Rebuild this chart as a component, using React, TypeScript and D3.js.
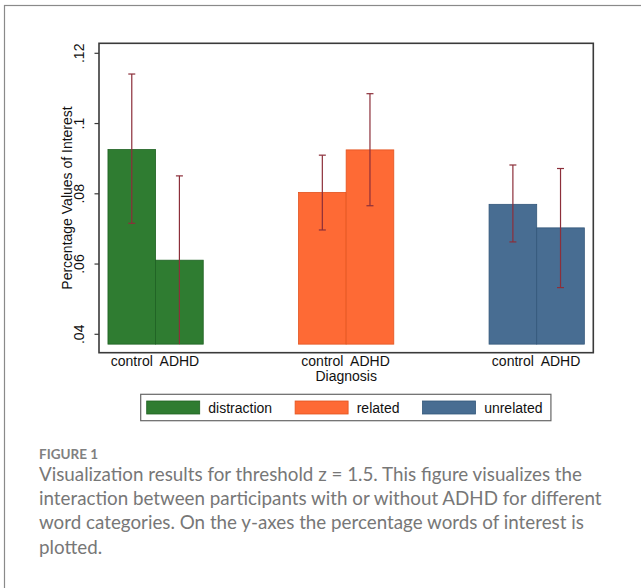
import * as d3 from "d3";
import { useRef, useEffect } from "react";

// word categories (groups) and diagnosis (bars within a group)
const categories = ["distraction", "related", "unrelated"];
const diagnosis = ["control", "ADHD"];

// mean percentage + confidence limits, order: control, ADHD
const distraction = [0.0926, 0.0611];
const distractionLo = [0.0716, 0.036];
const distractionHi = [0.1141, 0.0851];

const related = [0.0804, 0.0925];
const relatedLo = [0.0697, 0.0766];
const relatedHi = [0.091, 0.1085];

const unrelated = [0.077, 0.0703];
const unrelatedLo = [0.0663, 0.0533];
const unrelatedHi = [0.0882, 0.0872];

const yTicks = [0.04, 0.06, 0.08, 0.1, 0.12];
const yTickLabels = [".04", ".06", ".08", ".1", ".12"];
const barBase = 0.0372;

const captionLines = [
  "Visualization results for threshold z = 1.5. This figure visualizes the",
  "interaction between participants with or without ADHD for different",
  "word categories. On the y-axes the percentage words of interest is",
  "plotted.",
];

const W = 641;
const H = 588;
const stata = "'Liberation Sans', Arial, sans-serif";

export default function App() {
  const ref = useRef<SVGSVGElement>(null);

  useEffect(() => {
    if (!ref.current) return;
    const svg = d3.select(ref.current);
    svg.selectAll("*").remove();

    const colors = ["#2f7c31", "#fe6a35", "#486d92"];
    const edges = ["#1e6122", "#e2541f", "#33577a"];
    const series = [
      { mean: distraction, lo: distractionLo, hi: distractionHi },
      { mean: related, lo: relatedLo, hi: relatedHi },
      { mean: unrelated, lo: unrelatedLo, hi: unrelatedHi },
    ];

    // outer figure frame
    svg.append("rect")
      .attr("x", 4.5).attr("y", 5.5)
      .attr("width", W + 20).attr("height", H + 20)
      .attr("fill", "#fff").attr("stroke", "#8a8a8a").attr("stroke-width", 1.2);

    const left = 99, right = 593.3, top = 43.3, bottom = 352.7;

    const y = d3.scaleLinear().domain([0.04, 0.12]).range([334.3, 53.3]);
    const x0 = d3.scaleBand()
      .domain(categories)
      .range([left, right])
      .paddingInner(0.5)
      .paddingOuter(0.047);
    const x1 = d3.scaleBand().domain(diagnosis).range([0, x0.bandwidth()]);

    // bars
    categories.forEach((cat, ci) => {
      const g = svg.append("g").attr("transform", `translate(${x0(cat)},0)`);
      const s = series[ci];
      g.selectAll("rect")
        .data(diagnosis)
        .join("rect")
        .attr("x", (d) => x1(d)!)
        .attr("y", (d, i) => y(s.mean[i]))
        .attr("width", x1.bandwidth())
        .attr("height", (d, i) => y(barBase) - y(s.mean[i]))
        .attr("fill", colors[ci])
        .attr("stroke", edges[ci])
        .attr("stroke-width", 0.8);

      // error bars (clipped at bar base)
      diagnosis.forEach((d, i) => {
        const cx = x1(d)! + x1.bandwidth() / 2;
        const lo = Math.max(s.lo[i], barBase);
        const eb = g.append("g").attr("stroke", "#8c2f3a").attr("stroke-width", 1.2);
        eb.append("line").attr("x1", cx).attr("x2", cx)
          .attr("y1", y(s.hi[i])).attr("y2", y(lo));
        eb.append("line").attr("x1", cx - 3.5).attr("x2", cx + 3.5)
          .attr("y1", y(s.hi[i])).attr("y2", y(s.hi[i]));
        if (s.lo[i] >= barBase) {
          eb.append("line").attr("x1", cx - 3.5).attr("x2", cx + 3.5)
            .attr("y1", y(lo)).attr("y2", y(lo));
        }
      });

      // x labels
      g.selectAll("text")
        .data(diagnosis)
        .join("text")
        .attr("x", (d) => x1(d)! + x1.bandwidth() / 2)
        .attr("y", 366)
        .attr("text-anchor", "middle")
        .style("font-family", stata)
        .style("font-size", "14px")
        .attr("fill", "#111")
        .text((d) => d);
    });

    // plot region box
    svg.append("rect")
      .attr("x", left).attr("y", top)
      .attr("width", right - left).attr("height", bottom - top)
      .attr("fill", "none").attr("stroke", "#3a3a3a").attr("stroke-width", 1.6);

    // y axis ticks + labels
    const yt = svg.append("g");
    yTicks.forEach((t, i) => {
      yt.append("line").attr("x1", 94.5).attr("x2", left)
        .attr("y1", y(t)).attr("y2", y(t))
        .attr("stroke", "#3a3a3a").attr("stroke-width", 1.2);
      yt.append("text")
        .attr("transform", `translate(84,${y(t)}) rotate(-90)`)
        .attr("text-anchor", "middle")
        .style("font-family", stata)
        .style("font-size", "14px")
        .attr("fill", "#111")
        .text(yTickLabels[i]);
    });

    svg.append("text")
      .attr("transform", `translate(71.5,${(top + bottom) / 2}) rotate(-90)`)
      .attr("text-anchor", "middle")
      .style("font-family", stata)
      .style("font-size", "14px")
      .attr("fill", "#111")
      .text("Percentage Values of Interest");

    svg.append("text")
      .attr("x", (left + right) / 2).attr("y", 381)
      .attr("text-anchor", "middle")
      .style("font-family", stata)
      .style("font-size", "14px")
      .attr("fill", "#111")
      .text("Diagnosis");

    // legend
    const legend = svg.append("g");
    const lgTop = 394.3, lgBottom = 420.7;
    const box = legend.append("rect")
      .attr("y", lgTop).attr("height", lgBottom - lgTop)
      .attr("fill", "#fff").attr("stroke", "#666").attr("stroke-width", 1.2);
    let cursor = 146.7;
    categories.forEach((cat, ci) => {
      legend.append("rect")
        .attr("x", cursor).attr("y", 401)
        .attr("width", 53).attr("height", 13)
        .attr("fill", colors[ci]).attr("stroke", edges[ci]).attr("stroke-width", 0.8);
      const t = legend.append("text")
        .attr("x", cursor + 61.6).attr("y", 412.5)
        .style("font-family", stata)
        .style("font-size", "14px")
        .attr("fill", "#111")
        .text(cat);
      const w = (t.node() as SVGTextElement).getComputedTextLength();
      cursor += 61.6 + w + (ci < categories.length - 1 ? 23 : 8.4);
    });
    box.attr("x", 140.7).attr("width", cursor - 140.7);

    // caption
    svg.append("text")
      .attr("x", 39).attr("y", 459)
      .style("font-family", "Lato, 'Open Sans', sans-serif")
      .style("font-size", "13.5px")
      .style("font-weight", 700)
      .attr("fill", "#808080")
      .text("FIGURE 1");

    svg.append("g")
      .selectAll("text")
      .data(captionLines)
      .join("text")
      .attr("x", 39)
      .attr("y", (d, i) => 480.7 + i * 24.3)
      .style("font-family", "Lato, 'Open Sans', sans-serif")
      .style("font-size", "18.8px")
      .attr("fill", "#777")
      .text((d) => d);
  }, []);

  return (
    <svg
      ref={ref}
      width={W}
      height={H}
      style={{ position: "absolute", left: 0, top: 0, background: "#fff" }}
    />
  );
}
